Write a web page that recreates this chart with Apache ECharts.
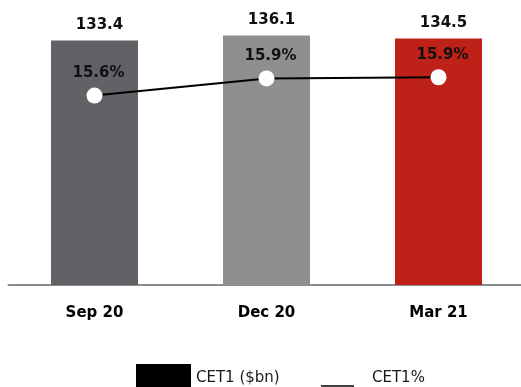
<!DOCTYPE html>
<html>
<head>
<meta charset="utf-8">
<script src="https://cdn.jsdelivr.net/npm/echarts@6/dist/echarts.min.js"></script>
<style>
html,body{margin:0;padding:0;background:#fff;overflow:hidden;}
#c{width:525px;height:387px;}
</style>
</head>
<body>
<div id="c"></div>
<script>
const categories = ['Sep 20', 'Dec 20', 'Mar 21'];
const cet1Bn = [133.4, 136.1, 134.5];
const cet1Pct = [15.6, 15.88, 15.9];
const seriesNames = ['CET1 ($bn)', 'CET1%'];

const barColors = ['#616266', '#8f8f8f', '#be2117'];
const FONT = '"DejaVu Sans", "Liberation Sans", Arial, sans-serif';

const chart = echarts.init(document.getElementById('c'), null, {renderer: 'canvas'});
chart.setOption({
  animation: false,
  backgroundColor: '#fff',
  textStyle: {fontFamily: FONT},
  grid: {left: 8.5, top: 10, right: 0.5, bottom: 102, containLabel: false},
  legend: [
    {
      data: [seriesNames[0]],
      left: 136, top: 364, padding: 0,
      itemWidth: 55, itemHeight: 28, icon: 'rect',
      textStyle: {fontFamily: FONT, fontSize: 15, color: '#1a1a1a', padding: [3, 0, 0, 0]}
    },
    {
      data: [{
        name: seriesNames[1],
        icon: 'path://M0 0 H0.01 V0.01 H0 Z M0 16 H33 V17.5 H0 Z',
        itemStyle: {color: '#000'}
      }],
      left: 321, top: 369.25, padding: 0,
      itemWidth: 33, itemHeight: 17.5,
      textStyle: {fontFamily: FONT, fontSize: 15, color: '#1a1a1a', padding: [3, 0, 0, 13]}
    }
  ],
  xAxis: {
    type: 'category',
    data: categories,
    axisLine: {lineStyle: {color: '#8c8c8c', width: 2}},
    axisTick: {show: false},
    axisLabel: {fontFamily: FONT, fontSize: 15, fontWeight: 'bold', color: '#000', margin: 21}
  },
  yAxis: [
    {type: 'value', min: 0, max: 150, show: false, splitLine: {show: false}},
    {type: 'value', min: 12.5, max: 17, show: false, splitLine: {show: false}}
  ],
  series: [
    {
      name: seriesNames[0],
      type: 'bar',
      barWidth: 87,
      itemStyle: {color: '#000'},
      data: cet1Bn.map((v, i) => ({value: v, itemStyle: {color: barColors[i]}})),
      label: {
        show: true, position: 'top', distance: 8, offset: [5, 0],
        fontFamily: FONT, fontSize: 15, fontWeight: 'bold', color: '#111',
        formatter: p => p.value.toFixed(1)
      },
      z: 1
    },
    {
      name: seriesNames[1],
      type: 'line',
      yAxisIndex: 1,
      data: cet1Pct,
      color: '#000',
      lineStyle: {color: '#000', width: 2},
      symbol: 'circle',
      symbolSize: 16,
      itemStyle: {color: '#fff', borderWidth: 0},
      label: {
        show: true, position: 'top', distance: 7, offset: [4, 0],
        fontFamily: FONT, fontSize: 15, fontWeight: 'bold', color: '#111',
        formatter: p => p.value.toFixed(1) + '%'
      },
      z: 3
    }
  ]
});
</script>
</body>
</html>
